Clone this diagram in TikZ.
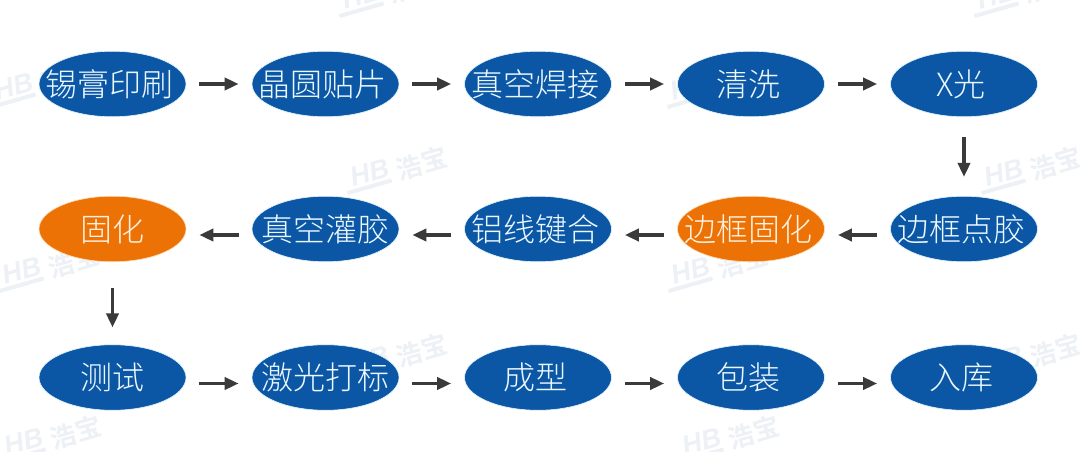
\documentclass[tikz,border=0pt]{standalone}
\usepackage{fontspec}
\usetikzlibrary{arrows.meta,shapes.geometric}
\setmainfont{Liberation Sans}
\newfontfamily\cjk{Noto Sans CJK SC Light}
\newfontfamily\cjkb{Noto Sans CJK SC Bold}
\definecolor{stepblue}{HTML}{0B57A5}
\definecolor{steporange}{HTML}{EC7205}
\definecolor{arrowgrey}{HTML}{3A3A3A}
\definecolor{wmark}{HTML}{EDF1F6}
\tikzset{
  stepnode/.style={ellipse,minimum width=147pt,minimum height=65.5pt,inner xsep=-24pt,inner ysep=-8pt,font=\cjk\fontsize{32}{32}\selectfont,execute at end node={\kern6pt}},
  textright/.style={execute at end node={},execute at begin node={\kern6pt}},
  bluestep/.style={stepnode,fill=stepblue,draw=cyan!12,line width=0.6pt,text=cyan!8},
  orangestep/.style={stepnode,fill=steporange,draw=orange!30,line width=0.6pt,text=orange!12},
  flow/.style={draw=arrowgrey,line width=3.6pt,-{Triangle[length=14pt,width=12pt]}},
  wmtext/.style={text=wmark,inner sep=0pt,transform shape}
}
\newcommand{\wmk}[3]{%
  \begin{scope}[shift={(#2,#3)},rotate=16]
    \fill[wmark] (0,0) rectangle (46,4);
    \node[wmtext,font=\bfseries\itshape\fontsize{27}{27}\selectfont] (wmh#1) at (27,16) {HB};
    \node[wmtext,font=\cjkb\fontsize{26}{26}\selectfont] (wmc#1) at (80,10) {浩宝};
  \end{scope}}
\begin{document}
\begin{tikzpicture}[x=1pt,y=1pt]
\useasboundingbox (0,0) rectangle (1080,451);
\fill[white] (0,0) rectangle (1080,451);
\begin{scope}
\clip (0,0) rectangle (1080,451);
\wmk{a}{340}{433}
\wmk{b}{975}{433}
\wmk{c}{-8}{342}
\wmk{d}{668}{342}
\wmk{e}{348}{256}
\wmk{f}{982}{256}
\wmk{g}{0}{158}
\wmk{h}{669}{158}
\wmk{i}{348}{69}
\wmk{j}{982}{69}
\wmk{k}{2}{-13}
\wmk{l}{680}{-13}
\end{scope}
% row 1
\node[bluestep] (n1) at (112.5,367) {锡膏印刷};
\node[bluestep] (n2) at (325.5,367) {晶圆贴片};
\node[bluestep] (n3) at (538,367) {真空焊接};
\node[bluestep] (n4) at (751,367) {清洗};
\node[bluestep] (n5) at (964,367) {X光};
% row 2
\node[bluestep] (n6) at (964,222) {边框点胶};
\node[orangestep] (n7) at (751,222) {边框固化};
\node[bluestep] (n8) at (538,222) {铝线键合};
\node[bluestep,textright] (n9) at (325.5,222) {真空灌胶};
\node[orangestep,textright] (n10) at (112.5,222) {固化};
% row 3
\node[bluestep,textright] (n11) at (112.5,73.5) {测试};
\node[bluestep,textright] (n12) at (325.5,73.5) {激光打标};
\node[bluestep] (n13) at (538,73.5) {成型};
\node[bluestep] (n14) at (751,73.5) {包装};
\node[bluestep] (n15) at (964,73.5) {入库};
% connectors
\foreach \a/\b in {n1/n2,n2/n3,n3/n4,n4/n5}
  \draw[flow] ([xshift=13pt]\a.east) -- ([xshift=-13pt]\b.west);
\draw[flow] ([yshift=-20pt]n5.south) -- ([yshift=19pt]n6.north);
\foreach \a/\b in {n6/n7,n7/n8,n8/n9,n9/n10}
  \draw[flow] ([shift={(-13pt,-6pt)}]\a.west) -- ([shift={(13pt,-6pt)}]\b.east);
\draw[flow] ([yshift=-26pt]n10.south) -- ([yshift=17pt]n11.north);
\foreach \a/\b in {n11/n12,n12/n13,n13/n14,n14/n15}
  \draw[flow] ([shift={(13pt,-6pt)}]\a.east) -- ([shift={(-13pt,-6pt)}]\b.west);
\end{tikzpicture}
\end{document}
